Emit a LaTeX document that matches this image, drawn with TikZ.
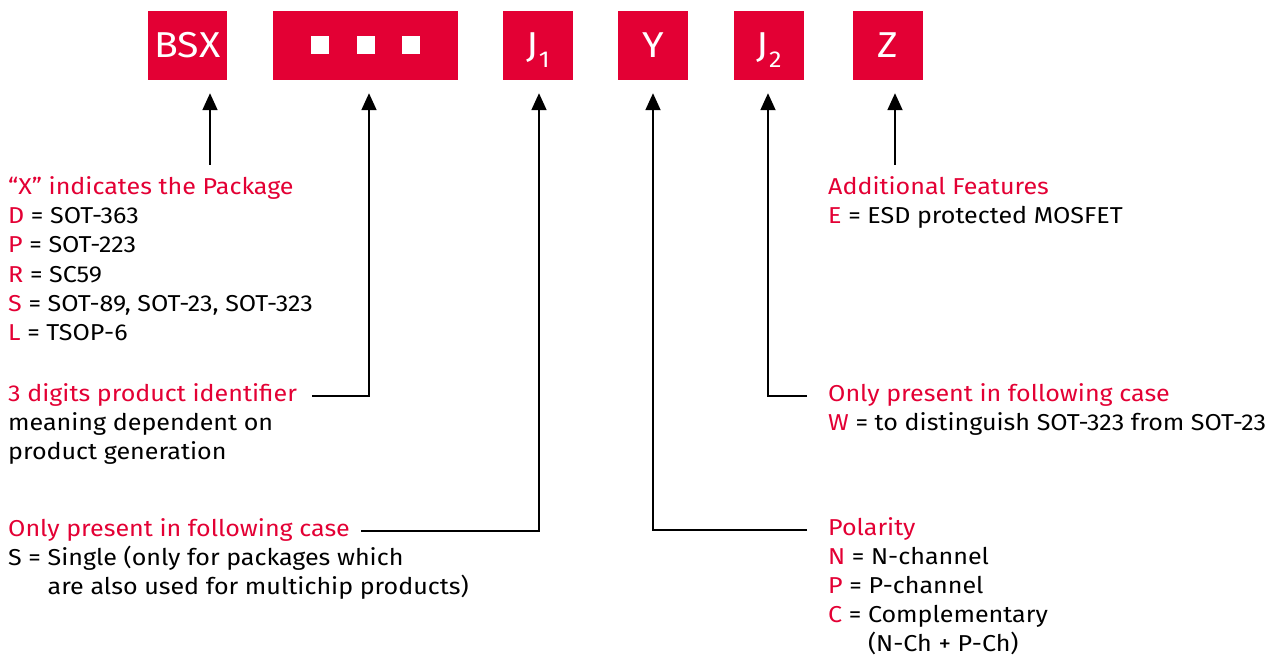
\documentclass[tikz,border=0pt]{standalone}
\usepackage{fontspec}
\setmainfont{Fira Sans}[FakeStretch=1.09]
\usetikzlibrary{arrows.meta}
\definecolor{ifxred}{RGB}{227,0,52}
\newcommand\redt[1]{\textcolor{ifxred}{#1}}
\newcommand\lowsub[1]{\kern0.5bp\raisebox{-10bp}{\fontsize{23bp}{23bp}\selectfont #1}}
\newcommand\blk[1]{\begin{tabular}[t]{@{}l@{}}#1\end{tabular}}
\begin{document}
\begin{tikzpicture}[x=1bp,y=-1bp,
  box/.style={fill=ifxred, text=white, inner sep=0pt, minimum height=69bp,
    font=\fontsize{36bp}{36bp}\selectfont, text height=25bp, text depth=0bp},
  lbl/.style={anchor=base west, inner sep=0pt, font=\fontsize{23bp}{29bp}\selectfont},
  conn/.style={line width=1.8bp, black},
  arr/.style={conn, -{Triangle[width=15bp,length=17bp]}, shorten >=13bp}]
\useasboundingbox (0,0) rectangle (1287,657);
% code boxes
\node[box, minimum width=79bp] (bsx) at (187.5,45.5) {BSX};
\node[box, minimum width=185bp] (num) at (365.5,45.5) {};
\fill[white] (311,36) rectangle (329,54);
\fill[white] (357,36) rectangle (375,54);
\fill[white] (402,36) rectangle (420,54);
\node[box, minimum width=70bp] (j1) at (538,45.5) {J\lowsub{1}};
\node[box, minimum width=70bp] (y) at (653,45.5) {Y};
\node[box, minimum width=70bp] (j2) at (769,45.5) {J\lowsub{2}};
\node[box, minimum width=70bp] (z) at (888,45.5) {Z};
% text blocks
\node[lbl] (pkg) at (8,195) {\blk{\redt{“X” indicates the Package}\\
  \redt{D} = SOT-363\\
  \redt{P} = SOT-223\\
  \redt{R} = SC59\\
  \redt{S} = SOT-89, SOT-23, SOT-323\\
  \redt{L} = TSOP-6}};
\node[lbl] (ident) at (8,401) {\blk{\redt{3 digits product identifier}\\
  meaning dependent on\\
  product generation}};
\node[lbl] (single) at (8,536) {\blk{\redt{Only present in following case}\\
  S = Single (only for packages which\\
  \phantom{S = }are also used for multichip products)}};
\node[lbl] (feat) at (828,195) {\blk{\redt{Additional Features}\\
  \redt{E} = ESD protected MOSFET}};
\node[lbl] (case) at (828,401) {\blk{\redt{Only present in following case}\\
  \redt{W} = to distinguish SOT-323 from SOT-23}};
\node[lbl] (pol) at (828,535) {\blk{\redt{Polarity}\\
  \redt{N} = N-channel\\
  \redt{P} = P-channel\\
  \redt{C} = Complementary\\
  \phantom{\redt{C} = }(N-Ch + P-Ch)}};
% connectors
\coordinate (a1) at (210,165);
\draw[arr] (a1) -- (a1 |- bsx.south);
\coordinate (a2s) at (312,396);
\coordinate (a2k) at (369,396);
\draw[arr] (a2s) -- (a2k) -- (a2k |- num.south);
\coordinate (a3s) at (361,531);
\coordinate (a3k) at (539,531);
\draw[arr] (a3s) -- (a3k) -- (a3k |- j1.south);
\coordinate (a4s) at (807,530);
\coordinate (a4k) at (653,530);
\draw[arr] (a4s) -- (a4k) -- (a4k |- y.south);
\coordinate (a5s) at (807,396);
\coordinate (a5k) at (768,396);
\draw[arr] (a5s) -- (a5k) -- (a5k |- j2.south);
\coordinate (a6) at (895,165);
\draw[arr] (a6) -- (a6 |- z.south);
\end{tikzpicture}
\end{document}
